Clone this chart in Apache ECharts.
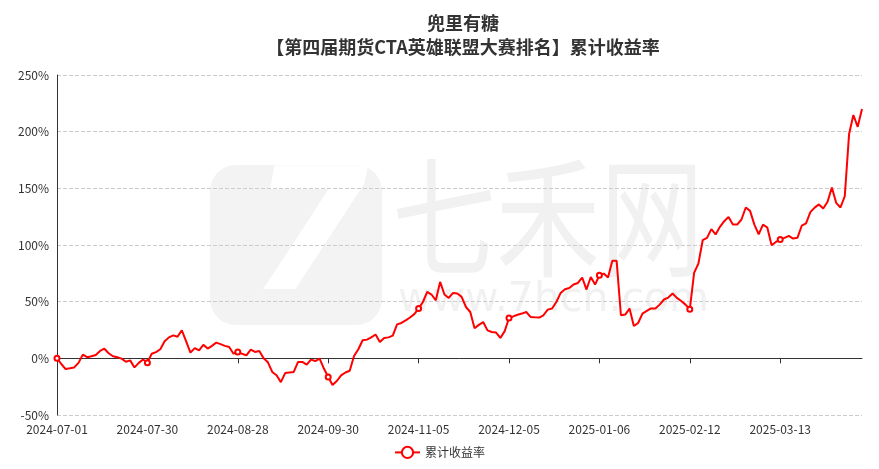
<!DOCTYPE html>
<html>
<head>
<meta charset="utf-8">
<script src="https://cdn.jsdelivr.net/npm/echarts@6/dist/echarts.min.js"></script>
<style>
html,body{margin:0;padding:0;background:#fff;}
#main{width:879px;height:469px;}
</style>
</head>
<body>
<div id="main"></div>
<script>
const titleText = '兜里有糖\n【第四届期货CTA英雄联盟大赛排名】累计收益率';
const seriesName = '累计收益率';

const dates = [
'2024-07-01','2024-07-02','2024-07-03','2024-07-04','2024-07-05','2024-07-08','2024-07-09','2024-07-10','2024-07-11','2024-07-12',
'2024-07-15','2024-07-16','2024-07-17','2024-07-18','2024-07-19','2024-07-22','2024-07-23','2024-07-24','2024-07-25','2024-07-26',
'2024-07-29','2024-07-30','2024-07-31',
'2024-08-01','2024-08-02','2024-08-05','2024-08-06','2024-08-07','2024-08-08','2024-08-09','2024-08-12','2024-08-13','2024-08-14',
'2024-08-15','2024-08-16','2024-08-19','2024-08-20','2024-08-21','2024-08-22','2024-08-23','2024-08-26','2024-08-27','2024-08-28',
'2024-08-29','2024-08-30',
'2024-09-02','2024-09-03','2024-09-04','2024-09-05','2024-09-06','2024-09-09','2024-09-10','2024-09-11','2024-09-12','2024-09-13',
'2024-09-18','2024-09-19','2024-09-20','2024-09-23','2024-09-24','2024-09-25','2024-09-26','2024-09-27','2024-09-30',
'2024-10-08','2024-10-09','2024-10-10','2024-10-11','2024-10-14','2024-10-15','2024-10-16','2024-10-17','2024-10-18','2024-10-21',
'2024-10-22','2024-10-23','2024-10-24','2024-10-25','2024-10-28','2024-10-29','2024-10-30','2024-10-31',
'2024-11-01','2024-11-04','2024-11-05','2024-11-06','2024-11-07','2024-11-08','2024-11-11','2024-11-12','2024-11-13','2024-11-14',
'2024-11-15','2024-11-18','2024-11-19','2024-11-21','2024-11-22','2024-11-25','2024-11-26','2024-11-27','2024-11-28','2024-11-29',
'2024-12-02','2024-12-03','2024-12-04','2024-12-05','2024-12-06','2024-12-09','2024-12-10','2024-12-11','2024-12-12','2024-12-13',
'2024-12-16','2024-12-17','2024-12-18','2024-12-19','2024-12-20','2024-12-23','2024-12-24','2024-12-25','2024-12-26','2024-12-27',
'2024-12-30','2024-12-31',
'2025-01-02','2025-01-03','2025-01-06','2025-01-07','2025-01-08','2025-01-09','2025-01-10','2025-01-13','2025-01-14','2025-01-15',
'2025-01-16','2025-01-17','2025-01-20','2025-01-21','2025-01-22','2025-01-23','2025-01-24','2025-01-27',
'2025-02-05','2025-02-06','2025-02-07','2025-02-10','2025-02-11','2025-02-12','2025-02-13','2025-02-14','2025-02-17','2025-02-18',
'2025-02-19','2025-02-20','2025-02-21','2025-02-24','2025-02-25','2025-02-26','2025-02-27','2025-02-28',
'2025-03-03','2025-03-04','2025-03-05','2025-03-06','2025-03-07','2025-03-10','2025-03-11','2025-03-12','2025-03-13','2025-03-14',
'2025-03-17','2025-03-18','2025-03-19','2025-03-20','2025-03-21','2025-03-24','2025-03-25','2025-03-26','2025-03-27','2025-03-28',
'2025-03-31','2025-04-01','2025-04-02','2025-04-03','2025-04-07','2025-04-08','2025-04-09','2025-04-10'
];

// cumulative return, percent
const returnsPct = [
0,-5,-9.5,-8.8,-8,-4,3.3,1,1.8,3,
6.5,8.5,4.5,1.8,1,-0.3,-3,-1.8,-8,-4,
-1,-3.8,4,5.5,8,15,18.5,20.3,19,24.7,
15,5,9,7,12,8.6,11,13.9,12.5,11,
10,4.1,5.6,4,2.6,7.7,5.6,6.4,0,-3.5,
-12,-15,-21,-13,-12.5,-12,-3.2,-3.2,-5.6,-1.1,
-2.4,-0.3,-9,-16.5,-23.5,-20,-15,-12.5,-11,2,
8,16,16.5,18.5,21,14.5,18,18.5,20,30,
31.2,33.5,36,39,43.9,49.7,58.6,56.3,51.2,67.4,
56.3,53.3,57.7,57.2,54.2,45.3,40.9,26.5,29.5,32,
24.7,23.2,22.7,18,24,35.6,37,38.5,39.5,40.9,
36.5,36.2,36,38,43,44,49.7,57.7,61,62.1,
65.1,66.5,71.3,60.7,71.8,65.1,73.3,74.8,71.3,86,
86,38,38.6,43.9,28.5,31.2,39.5,41.8,44,43.9,
47.4,51.9,53.6,57.2,53.3,50.6,47.4,43.3,75.4,83.7,
104.2,106.3,114,109.3,116,121,124.8,118,118,122.5,
133.1,130.1,118,109.5,118,115.4,99.8,102.7,104.8,106.3,
108,105.7,106.3,117,119,129,133,135.8,132.2,138.1,
150.8,137.2,133.1,143.1,197.9,214.7,204.3,220
];

const chart = echarts.init(document.getElementById('main'), null, {renderer: 'canvas'});
const FONT = '"Noto Sans CJK SC", "Noto Sans", sans-serif';

chart.setOption({
  animation: false,
  textStyle: {fontFamily: FONT},
  title: {
    text: titleText,
    left: 458,
    textAlign: 'center',
    top: 6,
    textStyle: {fontSize: 18, fontWeight: 'bold', color: '#333', lineHeight: 24, fontFamily: FONT}
  },
  graphic: [
    {
      type: 'group', left: 210, top: 160, silent: true, z: -10,
      children: [
        {type: 'rect', shape: {x: 0, y: 0, width: 172, height: 160, r: 26}, style: {fill: '#f3f3f3'}},
        {type: 'text', style: {x: 40, y: -5, text: '7', fontSize: 170, fontWeight: 'bold', fontStyle: 'italic', fill: '#ffffff', fontFamily: 'DejaVu Sans'}}
      ]
    },
    {type: 'text', left: 392, top: 152, silent: true, z: -10, scaleX: 0.8,
      style: {text: '七禾网', fontSize: 130, fill: '#f1f1f1', fontFamily: FONT}},
    {type: 'text', left: 398, top: 280, silent: true, z: -10,
      style: {text: 'www.7hcn.com', fontSize: 41, fill: '#f1f1f1', fontFamily: 'DejaVu Sans'}}
  ],
  legend: {
    bottom: 5,
    left: 'center',
    data: [seriesName],
    textStyle: {color: '#333', fontSize: 12}
  },
  grid: {left: 57, right: 17, top: 75, bottom: 54},
  xAxis: {
    type: 'category',
    data: dates,
    boundaryGap: false,
    axisLine: {lineStyle: {color: '#333'}},
    axisTick: {interval: 20},
    axisLabel: {interval: 20, color: '#333', fontSize: 12}
  },
  yAxis: {
    type: 'value',
    min: -50, max: 250, interval: 50,
    axisLine: {show: true, lineStyle: {color: '#333'}},
    axisTick: {show: false},
    axisLabel: {formatter: '{value}%', color: '#333', fontSize: 12},
    splitLine: {lineStyle: {type: 'dashed', color: '#ccc'}}
  },
  series: [{
    name: seriesName,
    type: 'line',
    data: returnsPct,
    symbol: 'emptyCircle',
    symbolSize: 5,
    showAllSymbol: 'auto',
    itemStyle: {color: '#ff0000', borderWidth: 1},
    lineStyle: {color: '#ff0000', width: 2}
  }]
});
</script>
</body>
</html>
